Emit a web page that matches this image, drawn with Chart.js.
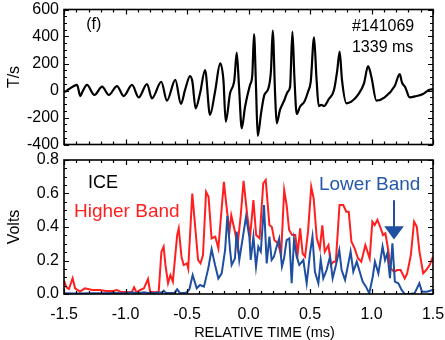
<!DOCTYPE html>
<html>
<head>
<meta charset="utf-8">
<script src="https://cdn.jsdelivr.net/npm/chart.js@4/dist/chart.umd.min.js"></script>
<style>
  html, body { margin: 0; padding: 0; background: #fff; }
  #wrap { position: relative; width: 445px; height: 340px; }
  canvas { position: absolute; left: 0; }
  #top { top: 0; }
  #bot { top: 150px; }
</style>
</head>
<body>
<div id="wrap">
  <canvas id="top" width="445" height="150"></canvas>
  <canvas id="bot" width="445" height="190"></canvas>
</div>
<script>
// ---------------- DATA ----------------
// Top panel: magnetic probe signal (T/s) vs relative time (ms)
const topTime = [-1.5,-1.494,-1.462,-1.394,-1.367,-1.35,-1.313,-1.253,-1.19,-1.136,-1.069,-1.015,-0.947,-0.893,-0.825,-0.785,-0.709,-0.663,-0.595,-0.549,
  -0.516,-0.475,-0.456,-0.43,-0.394,-0.353,-0.313,-0.272,-0.23,-0.204,-0.185,-0.15,-0.115,-0.096,-0.077,-0.055,-0.028,0.012,0.031,0.045,0.061,0.075,
  0.102,0.129,0.162,0.183,0.197,0.216,0.229,0.256,0.292,0.319,0.338,0.357,0.373,0.392,0.419,0.454,0.484,0.506,0.533,0.552,0.571,0.592,0.614,0.652,
  0.695,0.722,0.741,0.76,0.796,0.836,0.89,0.939,0.972,0.999,1.04,1.107,1.189,1.229,1.248,1.275,1.31,1.365,1.419,1.446,1.465,1.492,1.5];
const topField = [-5,-9,9,41,-41,-9,41,-33,28,-33,33,-41,41,-51,48,-58,65,-75,78,-100,
  4,107,65,-132,-21,152,-181,-9,201,78,-231,-21,78,280,28,-280,-120,41,115,418,28,-337,
  -169,-33,16,152,443,-21,-243,-144,-70,-9,28,436,102,-174,-120,-83,-9,65,394,102,-115,-107,-115,-65,
  4,152,288,78,-95,-83,-33,53,181,102,-75,-51,33,122,58,23,-51,-41,-26,-9,4,9,12];

// Bottom panel: ICE signals (Volts)
const higherTime = [-1.5,-1.48,-1.46,-1.43,-1.41,-1.37,-1.33,-1.27,-1.21,-1.16,-1.1,-1.07,-1.04,-1.0,-0.95,-0.93,-0.91,-0.88,-0.85,-0.817,-0.8,-0.76,-0.73,
  -0.708,-0.69,-0.675,-0.654,-0.635,-0.615,-0.58,-0.567,-0.545,-0.527,-0.5,-0.49,-0.457,-0.43,-0.41,-0.39,-0.37,-0.345,-0.325,-0.3,-0.27,-0.245,
  -0.2,-0.18,-0.155,-0.14,-0.11,-0.09,-0.063,-0.04,-0.01,0.013,0.04,0.062,0.09,0.12,0.14,0.17,0.19,0.21,0.24,0.265,0.29,0.31,0.33,0.355,0.38,
  0.4,0.42,0.44,0.46,0.484,0.51,0.53,0.555,0.58,0.6,0.62,0.65,0.67,0.69,0.71,0.74,0.77,0.795,0.815,0.837,0.863,0.89,0.917,0.95,0.985,
  1.007,1.026,1.048,1.07,1.094,1.113,1.134,1.156,1.183,1.21,1.237,1.27,1.29,1.32,1.346,1.368,1.39,1.42,1.445,1.473,1.5];
const higherBand = [0.08,0.04,0.03,0.094,0.034,0.014,0.034,0.024,0.024,0.018,0.018,0.024,0.012,0.012,0.01,0.04,0.01,0.024,0.034,0.09,0.014,0.01,0.014,
  0.253,0.283,0.173,0.064,0.113,0.074,0.352,0.392,0.223,0.173,0.183,0.153,0.6,0.372,0.203,0.183,0.233,0.61,0.58,0.332,0.342,0.272,
  0.67,0.53,0.372,0.47,0.372,0.282,0.47,0.675,0.47,0.342,0.561,0.352,0.332,0.66,0.68,0.412,0.4,0.322,0.302,0.233,0.62,0.53,0.382,0.352,0.352,
  0.243,0.392,0.243,0.223,0.372,0.64,0.57,0.332,0.272,0.41,0.253,0.292,0.173,0.193,0.193,0.531,0.531,0.491,0.491,0.312,0.272,0.213,0.193,0.292,0.213,
  0.432,0.412,0.442,0.402,0.352,0.362,0.272,0.153,0.133,0.143,0.143,0.093,0.123,0.233,0.432,0.402,0.253,0.123,0.143,0.173,0.223];

const lowerTime = [-1.5,-1.4,-1.3,-1.2,-1.1,-1.0,-0.95,-0.9,-0.85,-0.8,-0.75,-0.7,-0.69,-0.67,-0.6,-0.58,-0.56,-0.52,-0.5,-0.48,
  -0.454,-0.421,-0.394,-0.362,-0.327,-0.3,-0.272,-0.245,-0.218,-0.19,-0.172,-0.15,-0.137,-0.11,-0.096,-0.075,-0.056,-0.02,0.007,0.018,0.04,
  0.061,0.08,0.1,0.126,0.148,0.17,0.188,0.207,0.229,0.25,0.272,0.289,0.31,0.332,0.351,0.37,0.392,0.413,0.446,0.473,0.5,0.52,0.54,0.568,
  0.587,0.608,0.635,0.663,0.684,0.711,0.738,0.757,0.785,0.812,0.83,0.852,0.88,0.9,0.928,0.955,0.982,1.01,1.028,1.056,1.09,1.11,1.129,
  1.15,1.17,1.19,1.218,1.245,1.27,1.31,1.35,1.389,1.41,1.45,1.497];
const lowerBand = [0.005,0.003,0.005,0.004,0.006,0.005,0.01,0.004,0.01,0.005,0.008,0.01,0.02,0.006,0.008,0.028,0.008,0.006,0.01,0.03,
  0.113,0.034,0.054,0.044,0.153,0.267,0.173,0.093,0.123,0.263,0.466,0.263,0.173,0.213,0.372,0.203,0.292,0.462,0.342,0.203,0.342,
  0.163,0.282,0.253,0.531,0.183,0.342,0.203,0.223,0.283,0.332,0.163,0.213,0.322,0.332,0.064,0.322,0.223,0.173,0.203,0.064,0.243,0.342,0.133,0.064,
  0.203,0.093,0.143,0.223,0.093,0.173,0.263,0.143,0.084,0.183,0.253,0.133,0.193,0.143,0.074,0.044,0.004,0.103,0.193,0.123,0.283,0.203,0.243,
  0.094,0.302,0.074,0.064,0.024,0.0,0.0,0.004,0.064,0.014,0.014,0.024];

// Tick values
const xTicks = [-1.5, -1.0, -0.5, 0.0, 0.5, 1.0, 1.5];
const topYTicks = [-400, -200, 0, 200, 400, 600];
const botYTicks = [0.0, 0.2, 0.4, 0.6, 0.8];

// ---------------- STYLE / PLUGINS ----------------
const FAMILY = '"Liberation Sans", Arial, Helvetica, sans-serif';
Chart.defaults.font.family = FAMILY;
Chart.defaults.color = '#000';

const frameTicks = {
  id: 'frameTicks',
  afterDraw(chart, args, o) {
    const {ctx, chartArea: a, scales} = chart;
    const x = scales.x, y = scales.y;
    ctx.save();
    ctx.strokeStyle = '#000';
    ctx.lineWidth = 1.2;
    const drawSet = (scale, minor, major, horiz) => {
      const n = Math.round((scale.max - scale.min) / minor);
      for (let i = 0; i <= n; i++) {
        const v = scale.min + i * minor;
        const isMajor = Math.abs(v / major - Math.round(v / major)) < 1e-6;
        const len = isMajor ? 5 : 3;
        const p = Math.round(scale.getPixelForValue(v)) + 0.5;
        ctx.beginPath();
        if (horiz) {
          ctx.moveTo(p, a.bottom); ctx.lineTo(p, a.bottom - len);
          ctx.moveTo(p, a.top); ctx.lineTo(p, a.top + len);
        } else {
          ctx.moveTo(a.left, p); ctx.lineTo(a.left + len, p);
          ctx.moveTo(a.right, p); ctx.lineTo(a.right - len, p);
        }
        ctx.stroke();
      }
    };
    drawSet(x, o.xMinor, o.xMajor, true);
    drawSet(y, o.yMinor, o.yMajor, false);
    ctx.lineWidth = 1.6;
    ctx.strokeRect(a.left, a.top, a.right - a.left, a.bottom - a.top);
    ctx.restore();
  }
};

const notes = {
  id: 'notes',
  afterDraw(chart, args, o) {
    const {ctx, chartArea: a, scales: {x, y}} = chart;
    ctx.save();
    (o.texts || []).forEach(t => {
      ctx.font = t.size + 'px ' + FAMILY;
      ctx.fillStyle = t.color;
      ctx.textAlign = 'left';
      ctx.textBaseline = 'middle';
      ctx.fillText(t.text, x.getPixelForValue(t.x), y.getPixelForValue(t.y));
    });
    if (o.xTitle) {
      ctx.font = o.xTitle.size + 'px ' + FAMILY;
      ctx.fillStyle = '#000';
      ctx.textAlign = 'center';
      ctx.textBaseline = 'middle';
      ctx.fillText(o.xTitle.text, (a.left + a.right) / 2 + o.xTitle.dx, a.bottom + o.xTitle.dy);
    }
    (o.arrows || []).forEach(ar => {
      const px = x.getPixelForValue(ar.x);
      const y0 = y.getPixelForValue(ar.y0), yb = y.getPixelForValue(ar.yBase), yt = y.getPixelForValue(ar.yTip);
      const hw = Math.abs(x.getPixelForValue(ar.x + ar.halfW) - px);
      ctx.strokeStyle = ar.color; ctx.fillStyle = ar.color; ctx.lineWidth = 2;
      ctx.beginPath(); ctx.moveTo(px, y0); ctx.lineTo(px, yb + 2); ctx.stroke();
      ctx.beginPath(); ctx.moveTo(px - hw, yb); ctx.lineTo(px + hw, yb); ctx.lineTo(px, yt); ctx.closePath(); ctx.fill();
    });
    ctx.restore();
  }
};

const pts = (xs, ys) => xs.map((t, i) => ({x: t, y: ys[i]}));
const fix1 = v => Number(v).toFixed(1);

// ---------------- TOP CHART ----------------
new Chart(document.getElementById('top'), {
  type: 'line',
  data: { datasets: [{ data: pts(topTime, topField), borderColor: '#000', borderWidth: 2.2, pointRadius: 0,
                       cubicInterpolationMode: 'monotone', fill: false }] },
  options: {
    responsive: false, animation: false, devicePixelRatio: 1,
    layout: { padding: { left: 0, right: 12, top: 9.5, bottom: 5.5 } },
    plugins: {
      legend: { display: false }, tooltip: { enabled: false },
      frameTicks: { xMinor: 0.1, xMajor: 0.5, yMinor: 50, yMajor: 200 },
      notes: { texts: [
        { text: '(f)', x: -1.32, y: 485, size: 16, color: '#000' },
        { text: '#141069', x: 0.841, y: 473, size: 16, color: '#000' },
        { text: '1339 ms', x: 0.841, y: 317, size: 16, color: '#000' }
      ] }
    },
    scales: {
      x: { type: 'linear', min: -1.5, max: 1.5, display: false,
           afterBuildTicks: s => { s.ticks = xTicks.map(v => ({value: v})); } },
      y: { type: 'linear', min: -400, max: 600,
           afterBuildTicks: s => { s.ticks = topYTicks.map(v => ({value: v})); },
           afterFit: s => { s.width = 64; s.paddingTop = 0; s.paddingBottom = 0; },
           grid: { display: false, drawTicks: false }, border: { display: false },
           ticks: { padding: 5, font: { size: 16 }, color: '#000' },
           title: { display: true, text: 'T/s', font: { size: 16 }, color: '#000', padding: { top: 5, bottom: 0 } } }
    }
  },
  plugins: [frameTicks, notes]
});

// ---------------- BOTTOM CHART ----------------
new Chart(document.getElementById('bot'), {
  type: 'line',
  data: { datasets: [
    { label: 'Lower Band', data: pts(lowerTime, lowerBand), borderColor: '#1f4fa0', borderWidth: 2, pointRadius: 0, tension: 0, fill: false },
    { label: 'Higher Band', data: pts(higherTime, higherBand), borderColor: '#ff1f1f', borderWidth: 2, pointRadius: 0, tension: 0, fill: false }
  ] },
  options: {
    responsive: false, animation: false, devicePixelRatio: 1,
    layout: { padding: { left: 0, right: 12, top: 10, bottom: 0 } },
    plugins: {
      legend: { display: false }, tooltip: { enabled: false },
      frameTicks: { xMinor: 0.1, xMajor: 0.5, yMinor: 0.05, yMajor: 0.2 },
      notes: {
        texts: [
          { text: 'ICE', x: -1.305, y: 0.663, size: 18, color: '#000' },
          { text: 'Higher Band', x: -1.419, y: 0.491, size: 19, color: '#ff1f1f' },
          { text: 'Lower Band', x: 0.573, y: 0.651, size: 19, color: '#2458a8' }
        ],
        xTitle: { text: 'RELATIVE TIME (ms)', size: 14.5, dx: 16, dy: 39 },
        arrows: [ { x: 1.183, y0: 0.56, yBase: 0.405, yTip: 0.325, halfW: 0.08, color: '#1f4fa0' } ]
      }
    },
    scales: {
      x: { type: 'linear', min: -1.5, max: 1.5,
           afterBuildTicks: s => { s.ticks = xTicks.map(v => ({value: v})); },
           afterFit: s => { s.height = 46; s.paddingLeft = 0; s.paddingRight = 0; },
           grid: { display: false, drawTicks: false }, border: { display: false },
           ticks: { padding: 11, font: { size: 16 }, color: '#000', maxRotation: 0, autoSkip: false, callback: v => fix1(v) } },
      y: { type: 'linear', min: 0, max: 0.8,
           afterBuildTicks: s => { s.ticks = botYTicks.map(v => ({value: v})); },
           afterFit: s => { s.width = 64; s.paddingTop = 0; s.paddingBottom = 0; },
           grid: { display: false, drawTicks: false }, border: { display: false },
           ticks: { padding: 5, font: { size: 16 }, color: '#000', callback: v => fix1(v) },
           title: { display: true, text: 'Volts', font: { size: 16 }, color: '#000', padding: { top: 4.5, bottom: 0 } } }
    }
  },
  plugins: [frameTicks, notes]
});
</script>
</body>
</html>
